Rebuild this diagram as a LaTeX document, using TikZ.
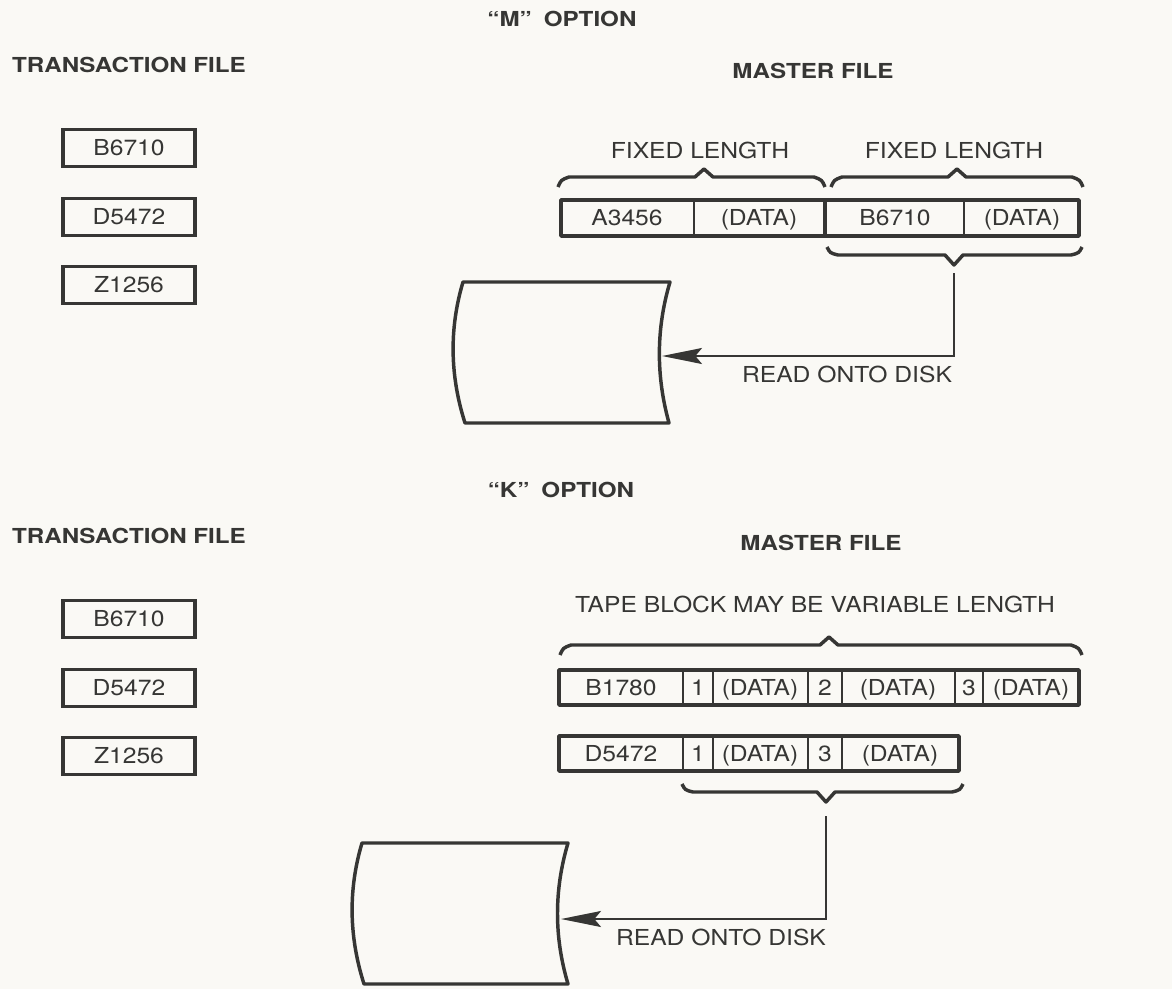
\documentclass[tikz,border=0pt]{standalone}
\usepackage{fontspec}
\setsansfont{TeX Gyre Heros}[FakeStretch=1.12]
\newfontfamily\headfont{TeX Gyre Heros}[FakeStretch=1.17]
\usetikzlibrary{arrows.meta,positioning}
\definecolor{inkGray}{RGB}{54,54,52}
\definecolor{paperTone}{RGB}{250,249,245}
\newcommand{\plainlabel}{\sffamily\fontsize{16.5}{18}\selectfont}
\newcommand{\headlabel}{\headfont\bfseries\fontsize{15.5}{17}\selectfont}
% brace with its point upwards: left x, right x, point x, line y
\newcommand{\bracetop}[4]{%
  \draw[ink] (#1,#4+10) .. controls (#1+3,#4+3) .. (#1+11,#4) -- (#3-9,#4)
    -- (#3,#4-8) -- (#3+9,#4) -- (#2-11,#4) .. controls (#2-3,#4+3) .. (#2,#4+10);}
% brace with its point downwards
\newcommand{\bracelow}[4]{%
  \draw[ink] (#1,#4-8) .. controls (#1+3,#4-2) .. (#1+11,#4) -- (#3-9,#4)
    -- (#3,#4+10) -- (#3+9,#4) -- (#2-11,#4) .. controls (#2-3,#4-2) .. (#2,#4-8);}

\begin{document}
\begin{tikzpicture}[x=0.75pt,y=-0.75pt,
    ink/.style={draw=inkGray, line width=2.6pt, line join=round},
    divline/.style={draw=inkGray, line width=1.9pt},
    cellText/.style={font=\plainlabel, text=inkGray, inner sep=0pt,
      text height=11.9pt, text depth=0pt},
    heading/.style={font=\headlabel, text=inkGray, inner sep=0pt},
    txbox/.style={cellText, draw=inkGray, line width=2.6pt,
      minimum width=99pt, minimum height=28pt},
    feed/.style={draw=inkGray, line width=1.6pt,
      -{Stealth[length=30pt,width=12pt,inset=5pt]}}
  ]
  \fill[paperTone] (0,0) rectangle (1172,989);
  \useasboundingbox (0,0) rectangle (1172,989);

  % "M" option
  \node[heading] (mopt) at (562,19) {“M”\hspace{9pt}OPTION};
  \node[heading] (txhead1) at (129,65) {TRANSACTION FILE};
  \node[heading] (mshead1) at (813,71) {MASTER FILE};
  \node[txbox] (tb1) at (129,148) {B6710};
  \node[txbox] (tb2) at (129,217) {D5472};
  \node[txbox] (tb3) at (129,285) {Z1256};

  \node[cellText] (fix1) at (700,151) {FIXED LENGTH};
  \node[cellText] (fix2) at (954,151) {FIXED LENGTH};
  \bracetop{558}{825}{704}{177}
  \bracetop{831}{1083}{957}{177}

  \draw[ink] (561,200) rectangle (1079,236);
  \draw[divline] (694,200) -- (694,236);
  \draw[ink] (825,200) -- (825,236);
  \draw[divline] (964,200) -- (964,236);
  \node[cellText] (mkey1) at (627,218) {A3456};
  \node[cellText] (mdat1) at (759,218) {(DATA)};
  \node[cellText] (mkey2) at (895,218) {B6710};
  \node[cellText] (mdat2) at (1022,218) {(DATA)};
  \bracelow{827}{1082}{954}{255}

  \draw[ink] (463,282) -- (670,282) .. controls (656,329) and (656,376) .. (669,423)
    -- (465,423) .. controls (450,376) and (449,329) .. cycle;
  \coordinate (mtip) at (954,273);
  \coordinate (mdisk) at (662,356);
  \draw[feed] (mtip) |- (mdisk);
  \node[cellText] (mread) at (847,375) {READ ONTO DISK};

  % "K" option
  \node[heading] (kopt) at (561,490) {“K”\hspace{9pt}OPTION};
  \node[heading] (txhead2) at (129,536) {TRANSACTION FILE};
  \node[heading] (mshead2) at (821,543) {MASTER FILE};
  \node[txbox] (tb4) at (129,619) {B6710};
  \node[txbox] (tb5) at (129,688) {D5472};
  \node[txbox] (tb6) at (129,756) {Z1256};

  \node[cellText] (varlen) at (815,605) {TAPE BLOCK MAY BE VARIABLE LENGTH};
  \bracetop{560}{1082}{829}{645}

  \draw[ink] (559,670) rectangle (1079,705);
  \foreach \dx in {683,713,808,842,955,983}
    \draw[divline] (\dx,670) -- (\dx,705);
  \node[cellText] (bkey) at (621,688) {B1780};
  \node[cellText] (bn1) at (698,688) {1};
  \node[cellText] (bd1) at (760,688) {(DATA)};
  \node[cellText] (bn2) at (825,688) {2};
  \node[cellText] (bd2) at (898,688) {(DATA)};
  \node[cellText] (bn3) at (969,688) {3};
  \node[cellText] (bd3) at (1031,688) {(DATA)};

  \draw[ink] (559,736) rectangle (959,771);
  \foreach \dx in {683,713,808,842}
    \draw[divline] (\dx,736) -- (\dx,771);
  \node[cellText] (dkey) at (621,754) {D5472};
  \node[cellText] (dn1) at (698,754) {1};
  \node[cellText] (dd1) at (760,754) {(DATA)};
  \node[cellText] (dn3) at (825,754) {3};
  \node[cellText] (dd3) at (900,754) {(DATA)};
  \bracelow{682}{963}{826}{792}

  \draw[ink] (362,843) -- (568,843) .. controls (554,890) and (554,937) .. (568,984)
    -- (364,984) .. controls (349,937) and (348,890) .. cycle;
  \coordinate (ktip) at (826,816);
  \coordinate (kdisk) at (561,919);
  \draw[feed] (ktip) |- (kdisk);
  \node[cellText] (kread) at (721,938) {READ ONTO DISK};
\end{tikzpicture}
\end{document}
